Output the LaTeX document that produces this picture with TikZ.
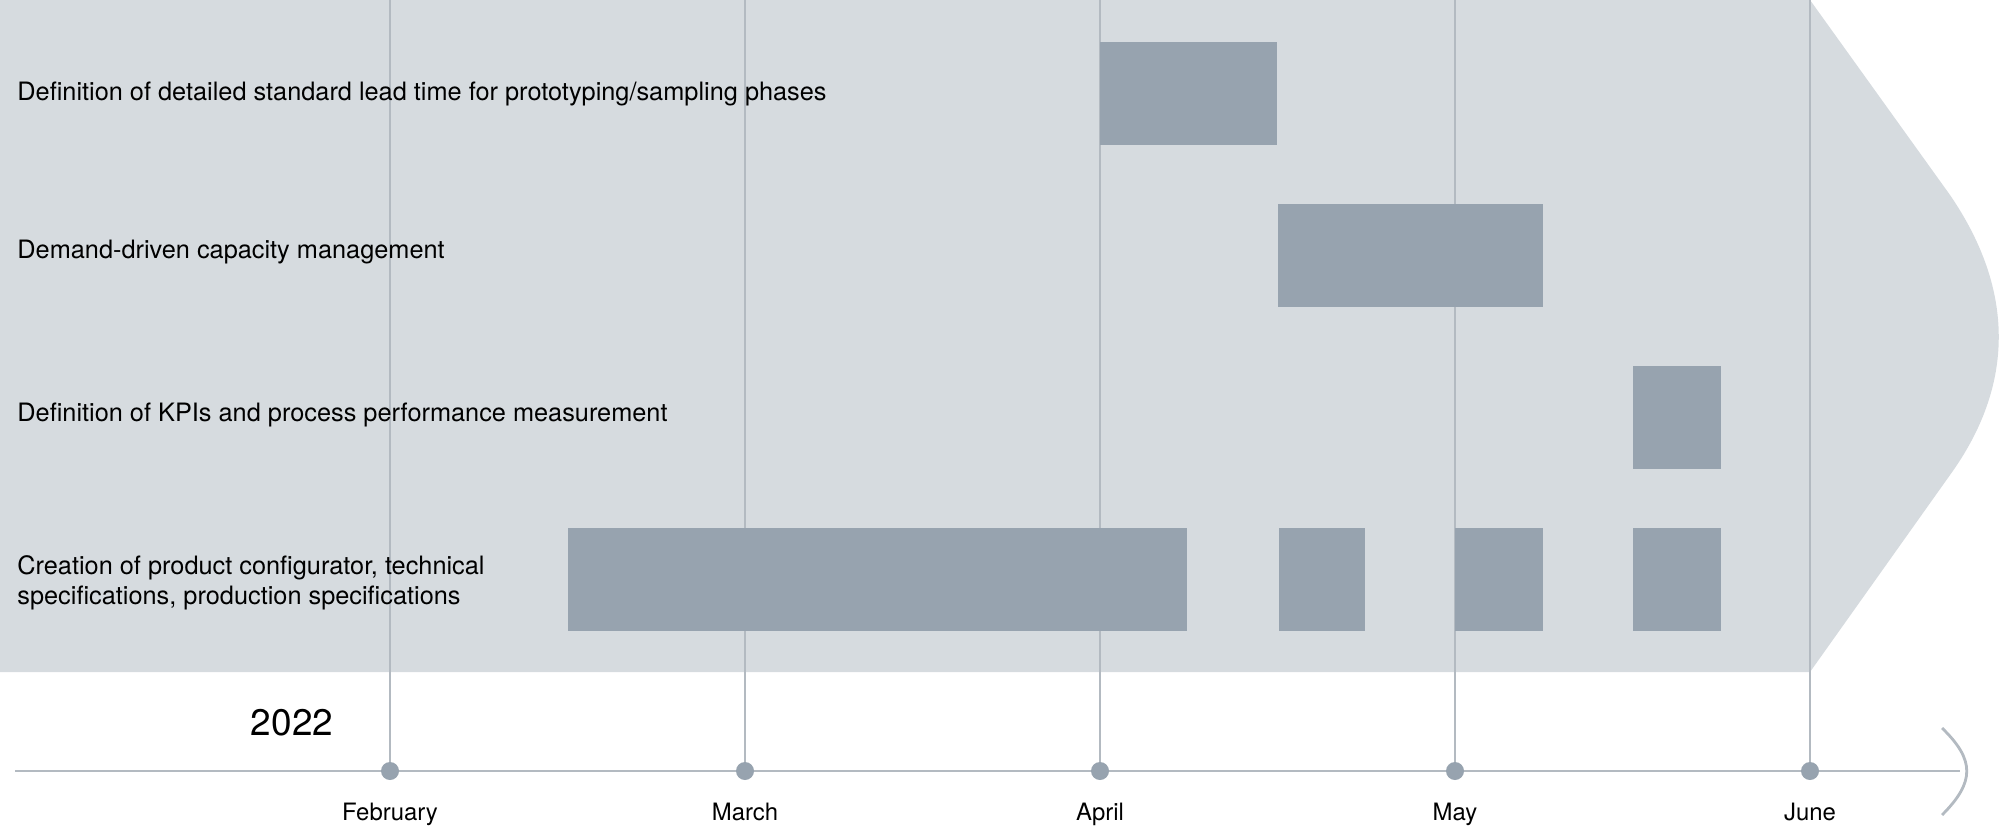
\documentclass[tikz,border=0pt]{standalone}
\usepackage{fontspec}
\setmainfont{TeX Gyre Heros}
\definecolor{bgrey}{HTML}{D6DBDF}
\definecolor{bar}{HTML}{97A3AF}
\definecolor{grid}{HTML}{B3BAC1}
\tikzset{
  task/.style={anchor=west,align=left,font=\fontsize{7.2}{8.6}\selectfont},
  month/.style={below=0.2cm,font=\fontsize{6.8}{8}\selectfont},
}
\begin{document}
\begin{tikzpicture}[x=0.01cm,y=-0.01cm]
        \useasboundingbox (0,0) rectangle (2000,827);
        \fill[bgrey] (0,0) -- (1810,0) -- (1950,195) .. controls (2015,290) and (2015,385) .. (1950,475) -- (1810,672) -- (0,672) -- cycle;
        \draw[grid,line width=0.7pt] (15,771) -- (1960,771);
        \draw[grid,line width=0.8pt] (1942,728) .. controls (1975,760) and (1975,782) .. (1942,815);
        \foreach \x/\m in {390/February,745/March,1100/April,1455/May,1810/June}{
          \draw[grid,line width=0.5pt] (\x,0) -- (\x,771);
          \fill[bar] (\x,771) circle (9);
          \node[month] (m\m) at (\x,771) {\m};}
        \foreach \a/\b/\r in {1100/1277/1,1278/1543/2,1633/1721/3,568/1187/4,1279/1365/4,1455/1543/4,1633/1721/4}{
          \fill[bar] (\a,{42+162*(\r-1)}) rectangle (\b,{145+162*(\r-1)});}
        \node[task] (t1) at (5,94) {Definition of detailed standard lead time for prototyping/sampling phases};
        \node[task] (t2) at (5,252) {Demand-driven capacity management};
        \node[task] (t3) at (5,415) {Definition of KPIs and process performance measurement};
        \node[task] (t4) at (5,583) {Creation of product configurator, technical\\specifications, production specifications};
        \node[font=\fontsize{10.5}{12}\selectfont] (yr) at (292,723) {2022};
      \end{tikzpicture}
\end{document}
